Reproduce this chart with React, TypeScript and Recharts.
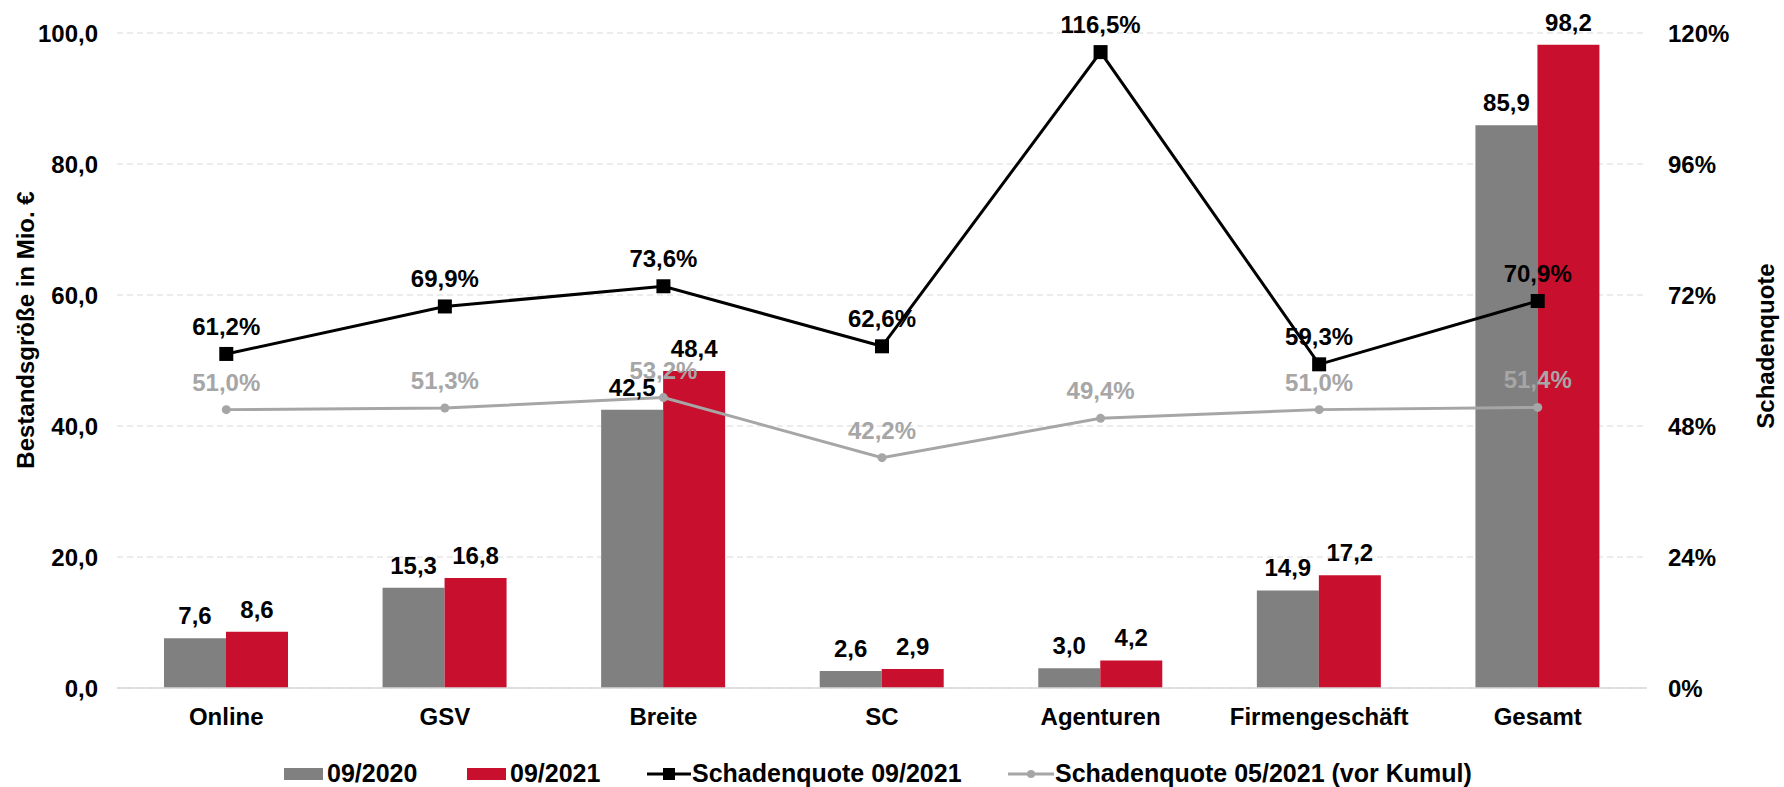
import React from 'react';
import { ComposedChart, Bar, Line, XAxis, YAxis, CartesianGrid, LabelList } from 'recharts';

const categories = ['Online', 'GSV', 'Breite', 'SC', 'Agenturen', 'Firmengeschäft', 'Gesamt'];
const bestand2020 = [7.6, 15.3, 42.5, 2.6, 3.0, 14.9, 85.9];
const bestand2021 = [8.6, 16.8, 48.4, 2.9, 4.2, 17.2, 98.2];
const quote092021 = [61.2, 69.9, 73.6, 62.6, 116.5, 59.3, 70.9];
const quote052021 = [51.0, 51.3, 53.2, 42.2, 49.4, 51.0, 51.4];

const leftTicks = [0, 20, 40, 60, 80, 100];
const rightTicks = [0, 24, 48, 72, 96, 120];

const FONT = '"Liberation Sans", Arial, sans-serif';
const GREY = '#808080';
const RED = '#C8102E';
const LIGHT = '#A6A6A6';

const chartData = categories.map((name, i) => ({
  name,
  v2020: bestand2020[i],
  v2021: bestand2021[i],
  q0921: quote092021[i],
  q0521: quote052021[i],
}));

const de = (v: number) => v.toFixed(1).replace('.', ',');

const labelStyle = { fontFamily: FONT, fontSize: 24, fontWeight: 700 };

const SquareDot = (props: any) => {
  const { cx, cy, index } = props;
  return <rect key={`sq-${index}`} x={cx - 7} y={cy - 7} width={14} height={14} fill="#000" />;
};

const LeftAxisLabel = () => (
  <text
    x={25}
    y={330}
    transform="rotate(-90, 25, 330)"
    textAnchor="middle"
    dominantBaseline="central"
    style={{ fontFamily: FONT, fontSize: 24, fontWeight: 700 }}
    fill="#000"
  >
    Bestandsgröße in Mio. €
  </text>
);

const RightAxisLabel = () => (
  <text
    x={1765}
    y={346}
    transform="rotate(-90, 1765, 346)"
    textAnchor="middle"
    dominantBaseline="central"
    style={{ fontFamily: FONT, fontSize: 24, fontWeight: 700 }}
    fill="#000"
  >
    Schadenquote
  </text>
);

const legendText: React.CSSProperties = {
  fontFamily: FONT,
  fontSize: 25,
  fontWeight: 700,
  color: '#000',
  marginLeft: 4,
};

const LegendBox = () => (
  <div style={{ position: 'absolute', left: 0, top: 759, width: 1784, height: 26 }}>
    <div style={{ position: 'absolute', left: 284, top: 0, display: 'flex', alignItems: 'center' }}>
      <div style={{ width: 39, height: 12, background: GREY }} />
      <span style={legendText}>09/2020</span>
    </div>
    <div style={{ position: 'absolute', left: 467, top: 0, display: 'flex', alignItems: 'center' }}>
      <div style={{ width: 39, height: 12, background: RED }} />
      <span style={legendText}>09/2021</span>
    </div>
    <div style={{ position: 'absolute', left: 647, top: 0, display: 'flex', alignItems: 'center' }}>
      <svg width={44} height={16}>
        <line x1={0} y1={8} x2={44} y2={8} stroke="#000" strokeWidth={3} />
        <rect x={16} y={2} width={12} height={12} fill="#000" />
      </svg>
      <span style={{ ...legendText, marginLeft: 1 }}>Schadenquote 09/2021</span>
    </div>
    <div style={{ position: 'absolute', left: 1008, top: 0, display: 'flex', alignItems: 'center' }}>
      <svg width={46} height={16}>
        <line x1={0} y1={8} x2={46} y2={8} stroke={LIGHT} strokeWidth={3} />
        <circle cx={23} cy={8} r={4} fill={LIGHT} />
      </svg>
      <span style={{ ...legendText, marginLeft: 1 }}>Schadenquote 05/2021 (vor Kumul)</span>
    </div>
  </div>
);

export default function App() {
  return (
    <div style={{ position: 'absolute', left: 0, top: 0, width: 1784, height: 787, background: '#fff' }}>
      <ComposedChart
        width={1784}
        height={787}
        data={chartData}
        margin={{ top: 33, right: 0, bottom: 49, left: 0 }}
        barGap={0}
      >
        <CartesianGrid yAxisId="left" vertical={false} stroke="#D9D9D9" strokeDasharray="6 4" />
        <XAxis
          dataKey="name"
          height={50}
          tickLine={false}
          tickSize={0}
          tickMargin={20}
          axisLine={{ stroke: '#D9D9D9', strokeWidth: 1.5 }}
          tick={{ fill: '#000', fontFamily: FONT, fontSize: 24, fontWeight: 700 }}
          interval={0}
        />
        <YAxis
          yAxisId="left"
          width={117}
          domain={[0, 100]}
          ticks={leftTicks}
          axisLine={false}
          tickLine={false}
          tickSize={0}
          tickMargin={19}
          tickFormatter={(v: number) => de(v)}
          tick={{ fill: '#000', fontFamily: FONT, fontSize: 24, fontWeight: 700 }}
          label={<LeftAxisLabel />}
        />
        <YAxis
          yAxisId="right"
          orientation="right"
          width={137}
          domain={[0, 120]}
          ticks={rightTicks}
          axisLine={false}
          tickLine={false}
          tickSize={0}
          tickMargin={21}
          tickFormatter={(v: number) => `${v}%`}
          tick={{ fill: '#000', fontFamily: FONT, fontSize: 24, fontWeight: 700 }}
          label={<RightAxisLabel />}
        />
        <Bar yAxisId="left" dataKey="v2020" fill={GREY} barSize={62} isAnimationActive={false}>
          <LabelList dataKey="v2020" position="top" offset={14} formatter={(v: any) => de(Number(v))} fill="#000" style={labelStyle} />
        </Bar>
        <Bar yAxisId="left" dataKey="v2021" fill={RED} barSize={62} isAnimationActive={false}>
          <LabelList dataKey="v2021" position="top" offset={14} formatter={(v: any) => de(Number(v))} fill="#000" style={labelStyle} />
        </Bar>
        <Line
          yAxisId="right"
          dataKey="q0521"
          stroke={LIGHT}
          strokeWidth={3}
          dot={{ r: 4.5, fill: LIGHT, stroke: LIGHT, strokeWidth: 0 }}
          activeDot={false}
          isAnimationActive={false}
        >
          <LabelList dataKey="q0521" position="top" offset={19} formatter={(v: any) => `${de(Number(v))}%`} fill={LIGHT} style={labelStyle} />
        </Line>
        <Line
          yAxisId="right"
          dataKey="q0921"
          stroke="#000"
          strokeWidth={3}
          dot={SquareDot}
          activeDot={false}
          isAnimationActive={false}
        >
          <LabelList dataKey="q0921" position="top" offset={19} formatter={(v: any) => `${de(Number(v))}%`} fill="#000" style={labelStyle} />
        </Line>
      </ComposedChart>
      <LegendBox />
    </div>
  );
}
